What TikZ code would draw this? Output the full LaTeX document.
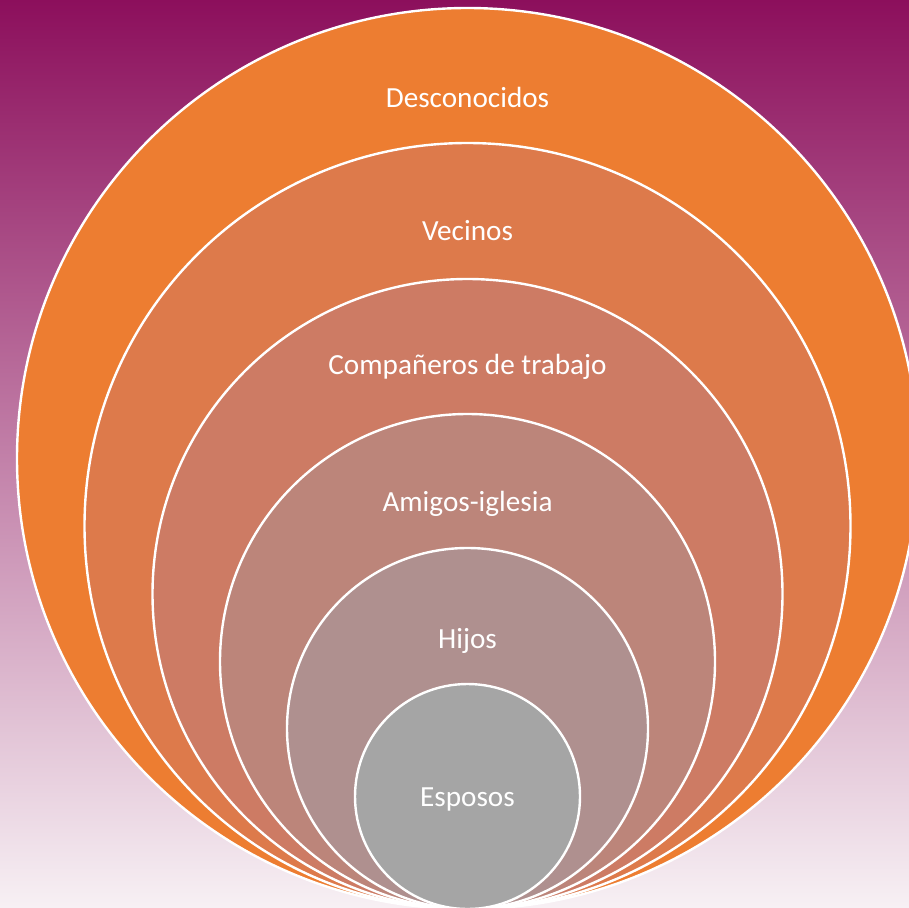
\documentclass[tikz,border=0pt]{standalone}
\usepackage{fontspec}
\setmainfont{Carlito}
\definecolor{bgtop}{HTML}{8C0F5C}
\definecolor{bgbot}{HTML}{F7F0F4}
\definecolor{ringA}{HTML}{ED7D31}
\definecolor{ringB}{HTML}{DD7A4B}
\definecolor{ringC}{HTML}{CD7B64}
\definecolor{ringD}{HTML}{BC857A}
\definecolor{ringE}{HTML}{AF908F}
\definecolor{ringF}{HTML}{A5A5A5}
\begin{document}
\begin{tikzpicture}[x=1pt,y=-1pt,
  ring/.style={circle, draw=white, line width=2.4pt, inner sep=0pt, outer sep=0pt},
  lbl/.style={text=white, anchor=base, inner sep=0pt, font=\fontsize{29.2}{33}\selectfont}]
\useasboundingbox (0,0) rectangle (909,907);
\clip (0,0) rectangle (909,907);
\fill[top color=bgtop, bottom color=bgbot] (0,0) rectangle (909,907);
\node[ring, fill=ringA, minimum size=901pt] (r1) at (467.5,458.5) {};
\node[ring, fill=ringB, minimum size=766pt] (r2) at (467.5,526) {};
\node[ring, fill=ringC, minimum size=630pt] (r3) at (467.5,594) {};
\node[ring, fill=ringD, minimum size=495pt] (r4) at (467.5,661.5) {};
\node[ring, fill=ringE, minimum size=361pt] (r5) at (467.5,728.5) {};
\node[ring, fill=ringF, minimum size=225pt] (r6) at (467.5,796.5) {};
\node[lbl] (t1) at (467.5,107) {Desconocidos};
\node[lbl] (t2) at (467.5,240) {Vecinos};
\node[lbl] (t3) at (467.5,374) {Compañeros de trabajo};
\node[lbl] (t4) at (467.5,511) {Amigos-iglesia};
\node[lbl] (t5) at (467.5,648) {Hijos};
\node[lbl] (t6) at (467.5,806) {Esposos};
\end{tikzpicture}
\end{document}
